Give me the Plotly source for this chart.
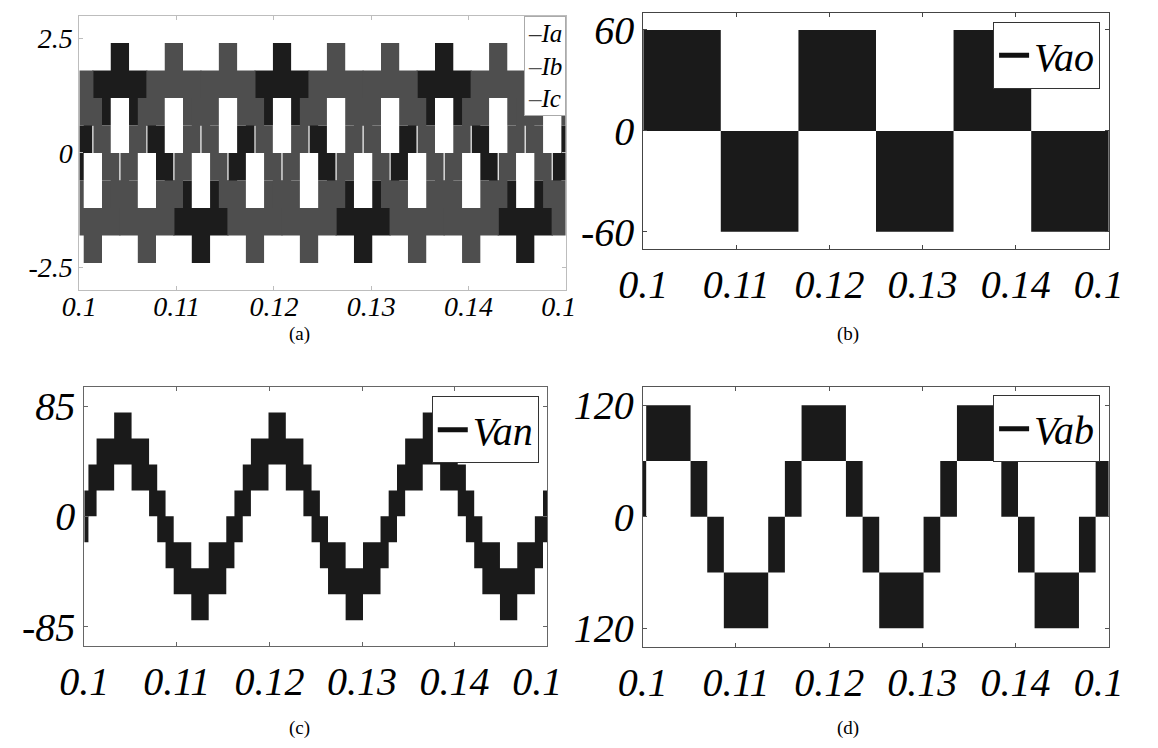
import plotly.graph_objects as go

# ---------------- data ----------------
x_tickvals = [0.10, 0.11, 0.12, 0.13, 0.14, 0.15]
x_ticktext = ["0.1", "0.11", "0.12", "0.13", "0.14", "0.1\u00a0\u00a0"]

# (a) phase currents: step bands (edges in s, lower/upper envelope in A)
ia_edges = [0.10000, 0.10045, 0.10133, 0.10323, 0.10511, 0.10700, 0.10788, 0.10878, 0.10966, 0.11156,
            0.11344, 0.11534, 0.11622, 0.11712, 0.11800, 0.11990, 0.12177, 0.12367, 0.12455, 0.12545,
            0.12633, 0.12823, 0.13011, 0.13200, 0.13288, 0.13378, 0.13466, 0.13656, 0.13844, 0.14034,
            0.14122, 0.14212, 0.14300, 0.14490, 0.14677, 0.14867, 0.14955, 0.15000]
ia_low = [-0.6, 0.0, 0.6, 1.2, 0.6, 0.0, -0.6, -1.2, -1.8, -2.4, -1.8, -1.2,
          -0.6, 0.0, 0.6, 1.2, 0.6, 0.0, -0.6, -1.2, -1.8, -2.4, -1.8, -1.2,
          -0.6, 0.0, 0.6, 1.2, 0.6, 0.0, -0.6, -1.2, -1.8, -2.4, -1.8, -1.2, -0.6]
ia_high = [0.6, 1.2, 1.8, 2.4, 1.8, 1.2, 0.6, 0.0, -0.6, -1.2, -0.6, 0.0,
           0.6, 1.2, 1.8, 2.4, 1.8, 1.2, 0.6, 0.0, -0.6, -1.2, -0.6, 0.0,
           0.6, 1.2, 1.8, 2.4, 1.8, 1.2, 0.6, 0.0, -0.6, -1.2, -0.6, 0.0, 0.6]

ib_edges = [0.10000, 0.10045, 0.10233, 0.10423, 0.10511, 0.10601, 0.10689, 0.10878, 0.11066, 0.11256,
            0.11344, 0.11434, 0.11522, 0.11712, 0.11899, 0.12089, 0.12177, 0.12267, 0.12355, 0.12545,
            0.12733, 0.12923, 0.13011, 0.13101, 0.13189, 0.13378, 0.13566, 0.13756, 0.13844, 0.13934,
            0.14022, 0.14212, 0.14399, 0.14589, 0.14677, 0.14767, 0.14855, 0.15000]
ib_low = [-1.8, -2.4, -1.8, -1.2, -0.6, 0.0, 0.6, 1.2, 0.6, 0.0, -0.6, -1.2,
          -1.8, -2.4, -1.8, -1.2, -0.6, 0.0, 0.6, 1.2, 0.6, 0.0, -0.6, -1.2,
          -1.8, -2.4, -1.8, -1.2, -0.6, 0.0, 0.6, 1.2, 0.6, 0.0, -0.6, -1.2, -1.8]
ib_high = [-0.6, -1.2, -0.6, 0.0, 0.6, 1.2, 1.8, 2.4, 1.8, 1.2, 0.6, 0.0,
           -0.6, -1.2, -0.6, 0.0, 0.6, 1.2, 1.8, 2.4, 1.8, 1.2, 0.6, 0.0,
           -0.6, -1.2, -0.6, 0.0, 0.6, 1.2, 1.8, 2.4, 1.8, 1.2, 0.6, 0.0, -0.6]

ic_edges = [0.10000, 0.10145, 0.10233, 0.10323, 0.10411, 0.10601, 0.10788, 0.10978, 0.11066, 0.11156,
            0.11244, 0.11434, 0.11622, 0.11811, 0.11899, 0.11989, 0.12077, 0.12267, 0.12455, 0.12645,
            0.12733, 0.12823, 0.12911, 0.13101, 0.13288, 0.13478, 0.13566, 0.13656, 0.13744, 0.13934,
            0.14122, 0.14312, 0.14400, 0.14489, 0.14577, 0.14767, 0.14955, 0.15000]
ic_low = [0.6, 0.0, -0.6, -1.2, -1.8, -2.4, -1.8, -1.2, -0.6, 0.0, 0.6, 1.2,
          0.6, 0.0, -0.6, -1.2, -1.8, -2.4, -1.8, -1.2, -0.6, 0.0, 0.6, 1.2,
          0.6, 0.0, -0.6, -1.2, -1.8, -2.4, -1.8, -1.2, -0.6, 0.0, 0.6, 1.2, 0.6]
ic_high = [1.8, 1.2, 0.6, 0.0, -0.6, -1.2, -0.6, 0.0, 0.6, 1.2, 1.8, 2.4,
           1.8, 1.2, 0.6, 0.0, -0.6, -1.2, -0.6, 0.0, 0.6, 1.2, 1.8, 2.4,
           1.8, 1.2, 0.6, 0.0, -0.6, -1.2, -0.6, 0.0, 0.6, 1.2, 1.8, 2.4, 1.8]

# (b) pole voltage Vao
vao_edges = [0.10000, 0.10833, 0.11667, 0.12500, 0.13333, 0.14167, 0.15000]
vao_low = [0, -60, 0, -60, 0, -60]
vao_high = [60, 0, 60, 0, 60, 0]

# (c) phase voltage Van
van_edges = [0.10000, 0.10045, 0.10133, 0.10323, 0.10511, 0.10700, 0.10788, 0.10878, 0.10966, 0.11156,
             0.11344, 0.11534, 0.11622, 0.11712, 0.11800, 0.11990, 0.12177, 0.12367, 0.12455, 0.12545,
             0.12633, 0.12823, 0.13011, 0.13200, 0.13288, 0.13378, 0.13466, 0.13656, 0.13844, 0.14034,
             0.14122, 0.14212, 0.14300, 0.14490, 0.14677, 0.14867, 0.14955, 0.15000]
van_low = [-20, 0, 20, 40, 20, 0, -20, -40, -60, -80, -60, -40,
           -20, 0, 20, 40, 20, 0, -20, -40, -60, -80, -60, -40,
           -20, 0, 20, 40, 20, 0, -20, -40, -60, -80, -60, -40, -20]
van_high = [20, 40, 60, 80, 60, 40, 20, 0, -20, -40, -20, 0,
            20, 40, 60, 80, 60, 40, 20, 0, -20, -40, -20, 0,
            20, 40, 60, 80, 60, 40, 20, 0, -20, -40, -20, 0, 20]

# (d) line voltage Vab
vab_edges = [0.10000, 0.10037, 0.10513, 0.10692, 0.10870, 0.11346, 0.11525, 0.11704, 0.12180, 0.12359,
             0.12537, 0.13013, 0.13192, 0.13371, 0.13847, 0.14026, 0.14204, 0.14680, 0.14859, 0.15000]
vab_low = [0, 60, 0, -60, -120, -60, 0, 60, 0, -60, -120, -60, 0, 60, 0, -60, -120, -60, 0]
vab_high = [60, 120, 60, 0, -60, 0, 60, 120, 60, 0, -60, 0, 60, 120, 60, 0, -60, 0, 60]


# ---------------- helpers ----------------
def band_xy(edges, low, high):
    xs, ys = [], []
    for i in range(len(low)):
        xs += [edges[i], edges[i + 1]]
        ys += [high[i], high[i]]
    for i in reversed(range(len(low))):
        xs += [edges[i + 1], edges[i]]
        ys += [low[i], low[i]]
    return xs, ys


SERIF = "Liberation Serif, Times New Roman, serif"
W, H = 1158, 748


def dom_x(a, b):
    return [a / W, b / W]


def dom_y(top, bottom):
    return [1 - bottom / H, 1 - top / H]


fig = go.Figure()


def add_band(edges, low, high, color, xa, ya, name):
    xs, ys = band_xy(edges, low, high)
    fig.add_trace(go.Scatter(x=xs, y=ys, mode="lines", fill="toself", fillcolor=color,
                             line=dict(width=0, color=color), name=name, showlegend=False,
                             hoverinfo="skip", xaxis=xa, yaxis=ya))


# (a)
add_band(ia_edges, ia_low, ia_high, "#1c1c1c", "x", "y", "Ia")
add_band(ib_edges, ib_low, ib_high, "#4e4e4e", "x", "y", "Ib")
add_band(ic_edges, ic_low, ic_high, "#4e4e4e", "x", "y", "Ic")
# (b)
add_band(vao_edges, vao_low, vao_high, "#1a1a1a", "x2", "y2", "Vao")
# (c)
add_band(van_edges, van_low, van_high, "#1a1a1a", "x3", "y3", "Van")
# (d)
add_band(vab_edges, vab_low, vab_high, "#1a1a1a", "x4", "y4", "Vab")

# legend entries (b)-(d)
for nm, xa, ya, lg in [("Vao", "x2", "y2", "legend2"), ("Van", "x3", "y3", "legend3"),
                       ("Vab", "x4", "y4", "legend4")]:
    fig.add_trace(go.Scatter(x=[None], y=[None], mode="lines", name=nm,
                             line=dict(color="#111111", width=5), xaxis=xa, yaxis=ya,
                             legend=lg, showlegend=True))


def xaxis(domain, anchor, color, size, standoff=0):
    return dict(domain=domain, anchor=anchor, range=[0.1, 0.15], tickmode="array",
                tickvals=x_tickvals, ticktext=x_ticktext, showline=True, mirror="ticks",
                linecolor=color, linewidth=1, ticks="inside", ticklen=4, tickcolor=color,
                showgrid=False, zeroline=False, tickangle=0, fixedrange=True,
                ticklabelstandoff=standoff,
                tickfont=dict(family=SERIF, size=size, color="black", style="italic"))


def yaxis(domain, anchor, rng, vals, texts, color, size):
    return dict(domain=domain, anchor=anchor, range=rng, tickmode="array",
                tickvals=vals, ticktext=texts, showline=True, mirror="ticks",
                linecolor=color, linewidth=1, ticks="inside", ticklen=4, tickcolor=color,
                showgrid=False, zeroline=False, fixedrange=True,
                tickfont=dict(family=SERIF, size=size, color="black", style="italic"))


leg_common = dict(bgcolor="white", bordercolor="#333333", borderwidth=1,
                  xanchor="left", yanchor="top", itemwidth=30,
                  font=dict(family=SERIF, size=40, color="black", style="italic"))

fig.update_layout(
    width=W, height=H, margin=dict(l=0, r=0, t=0, b=0, pad=0),
    paper_bgcolor="white", plot_bgcolor="white", showlegend=True,
    xaxis=xaxis(dom_x(57.3, 570.3), "y", "#bdbdbd", 28, standoff=-9),
    yaxis=yaxis(dom_y(10.7, 289.7), "x", [-3, 3], [-2.5, 0, 2.5], ["-2.5", "0", "2.5"], "#bdbdbd", 28),
    xaxis2=xaxis(dom_x(652, 1143), "y2", "#444444", 40),
    yaxis2=yaxis(dom_y(8.3, 247.3), "x2", [-70, 70], [-60, 0, 60], ["-60", "0", "60"], "#444444", 40),
    xaxis3=xaxis(dom_x(62.5, 550.7), "y3", "#666666", 40),
    yaxis3=yaxis(dom_y(387.3, 650.7), "x3", [-100, 100], [-85, 0, 85], ["-85", "0", "85"], "#666666", 40),
    xaxis4=xaxis(dom_x(651.5, 1143), "y4", "#555555", 40),
    yaxis4=yaxis(dom_y(387.5, 651.3), "x4", [-140, 140], [-120, 0, 120], ["120", "0", "120"], "#555555", 40),
    legend2=dict(x=1021 / W, y=1 - 17 / H, **leg_common),
    legend3=dict(x=429 / W, y=1 - 397 / H, **leg_common),
    legend4=dict(x=1021 / W, y=1 - 396 / H, **leg_common),
)

# legend of (a) as a bordered text box, flush with the frame's top-right corner
fig.add_annotation(
    xref="paper", yref="paper", x=570.3 / W, y=1 - 10.7 / H, xanchor="right", yanchor="top",
    text=("<span style='color:#333333'>\u2013</span>Ia<br>"
          "<span style='color:#555555'>\u2013</span>Ib<br>"
          "<span style='color:#555555'>\u2013</span>Ic"),
    showarrow=False, align="left", bgcolor="white", bordercolor="#aaaaaa", borderwidth=1,
    borderpad=3, font=dict(family=SERIF, size=25, color="black", style="italic"))

# panel captions
for txt, px, py in [("(a)", 290, 334), ("(b)", 868, 334), ("(c)", 290, 734), ("(d)", 868, 734)]:
    fig.add_annotation(xref="paper", yref="paper", x=px / W, y=1 - py / H,
                       xanchor="center", yanchor="middle", text=txt, showarrow=False,
                       font=dict(family=SERIF, size=19, color="black"))

fig.write_html("out.html", include_plotlyjs=True, full_html=True)
